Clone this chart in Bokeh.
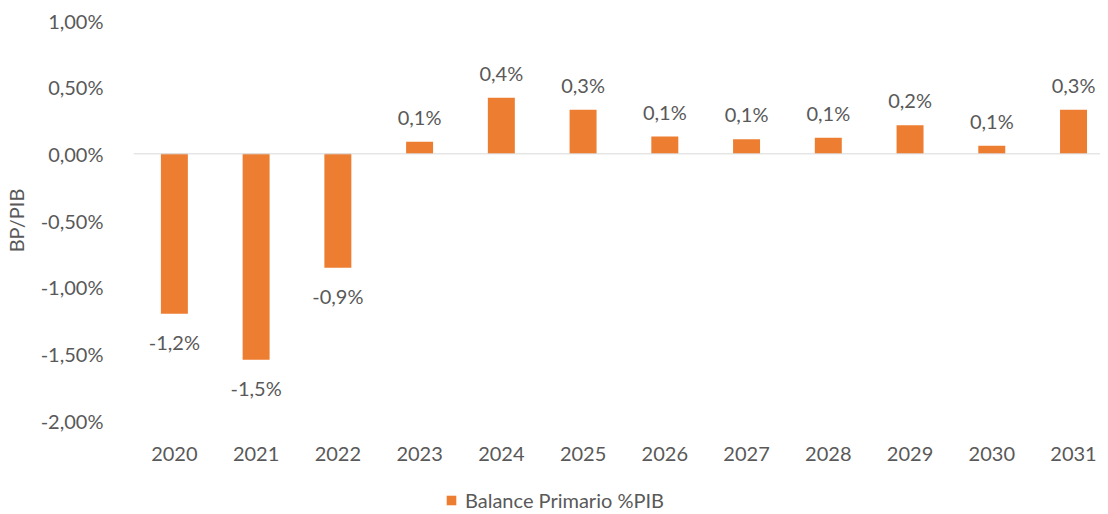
from bokeh.plotting import figure
from bokeh.layouts import column
from bokeh.models import (ColumnDataSource, Range1d, FixedTicker, Span, Legend, LegendItem)
from bokeh.core.properties import value
from bokeh.embed import file_html
from bokeh.resources import INLINE

years = ["2020", "2021", "2022", "2023", "2024", "2025", "2026", "2027", "2028", "2029", "2030", "2031"]
balance = [-1.20, -1.545, -0.855, 0.09, 0.42, 0.33, 0.13, 0.11, 0.12, 0.215, 0.06, 0.33]
labels = ["-1,2%", "-1,5%", "-0,9%", "0,1%", "0,4%", "0,3%", "0,1%", "0,1%", "0,1%", "0,2%", "0,1%", "0,3%"]
y_ticks = [-2.0, -1.5, -1.0, -0.5, 0.0, 0.5, 1.0]
y_tick_labels = ["-2,00%", "-1,50%", "-1,00%", "-0,50%", "0,00%", "0,50%", "1,00%"]
series_name = "Balance Primario %PIB"

FONT = "Lato"
TXT = "#595959"
ORANGE = "#ED7D31"

xs = list(range(len(years)))
src = ColumnDataSource(dict(
    x=xs, top=balance, label=labels,
    yoff=[-25 if v >= 0 else 28 for v in balance],
))

p = figure(width=1100, height=466, output_backend="svg", toolbar_location=None,
           x_range=Range1d(-0.5, 11.33), y_range=Range1d(-2.0, 1.0),
           min_border_left=124, min_border_right=0, min_border_top=20, min_border_bottom=46)
p.outline_line_color = None
p.xgrid.grid_line_color = None
p.ygrid.grid_line_color = None
p.background_fill_color = "white"
p.border_fill_color = "white"

bars = p.vbar(x="x", top="top", bottom=0, width=0.33, source=src,
              fill_color=ORANGE, line_color=None)

p.add_layout(Span(location=0, dimension="width", line_color="#D9D9D9", line_width=1))

p.text(x="x", y="top", text="label", source=src, y_offset="yoff",
       text_align="center", text_baseline="middle", text_color=TXT,
       text_font=value(FONT), text_font_size="20px")

# axes
p.yaxis.ticker = FixedTicker(ticks=y_ticks)
p.yaxis.major_label_overrides = {t: l for t, l in zip(y_ticks, y_tick_labels)}
p.yaxis.axis_line_color = None
p.yaxis.major_tick_line_color = None
p.yaxis.minor_tick_line_color = None
p.yaxis.major_label_text_font = FONT
p.yaxis.major_label_text_font_size = "20px"
p.yaxis.major_label_text_color = TXT
p.yaxis.major_label_standoff = 24
p.yaxis.axis_label = "BP/PIB"
p.yaxis.axis_label_text_font = FONT
p.yaxis.axis_label_text_font_size = "20px"
p.yaxis.axis_label_text_font_style = "normal"
p.yaxis.axis_label_text_color = TXT
p.yaxis.axis_label_standoff = 10

p.xaxis.ticker = FixedTicker(ticks=xs)
p.xaxis.major_label_overrides = {i: y for i, y in zip(xs, years)}
p.xaxis.axis_line_color = None
p.xaxis.major_tick_line_color = None
p.xaxis.minor_tick_line_color = None
p.xaxis.major_label_text_font = FONT
p.xaxis.major_label_text_font_size = "20px"
p.xaxis.major_label_text_color = TXT
p.xaxis.major_label_standoff = 20

# legend strip below the chart (proxy glyph kept outside the visible range)
lg = figure(width=1100, height=46, output_backend="svg", toolbar_location=None,
            x_range=Range1d(0, 1), y_range=Range1d(0, 1),
            min_border_left=0, min_border_right=0, min_border_top=0, min_border_bottom=0)
lg.axis.visible = False
lg.grid.visible = False
lg.outline_line_color = None
lg_bar = lg.vbar(x=[-5], top=[-5], bottom=-6, width=0.33, fill_color=ORANGE, line_color=None)

legend = Legend(items=[LegendItem(label=series_name, renderers=[lg_bar])],
                orientation="horizontal", location=(312, 0),
                label_text_font=FONT, label_text_font_size="20px",
                label_text_color=TXT, glyph_width=12, glyph_height=12,
                border_line_color=None, background_fill_alpha=0,
                padding=2, margin=0, spacing=6, label_standoff=8)
lg.add_layout(legend, "center")

layout = column(p, lg, spacing=0)
open("out.html", "w").write(file_html(layout, INLINE))
